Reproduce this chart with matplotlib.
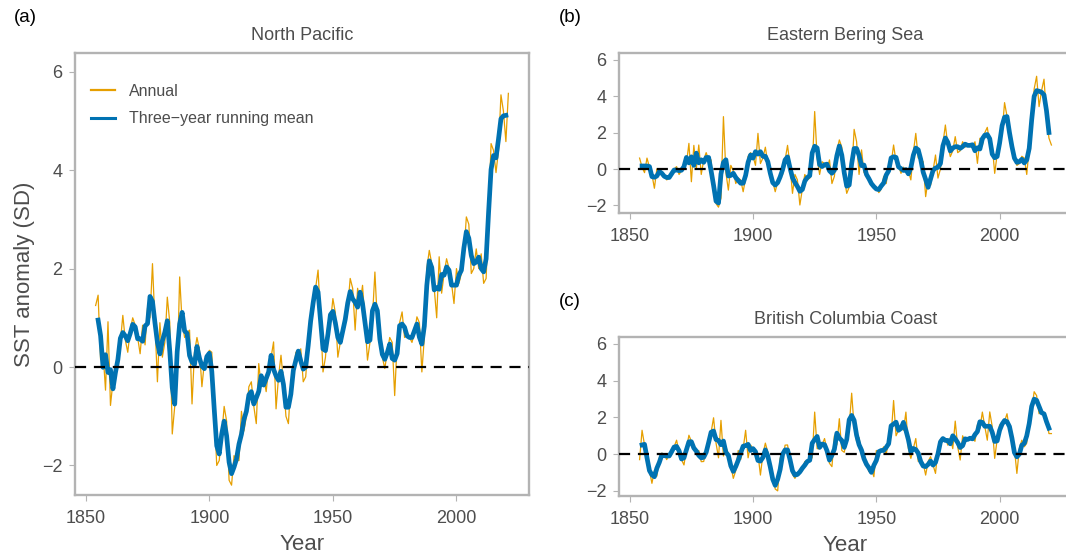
import matplotlib
matplotlib.use("Agg")
import matplotlib.pyplot as plt
import pandas as pd

plt.rcParams['font.family'] = ['Liberation Sans', 'DejaVu Sans']

# annual SST anomalies (SD), one value per year from 1854 to 2021
years = list(range(1854, 2022))

north_pacific = [
    1.25, 1.46, 0.15, 0.3, -0.47, 0.92, -0.78, -0.3, -0.25, 0.2,      # 1854-1863
    0.5, 1.05, 0.55, 0.3, 0.75, 1.0, 0.85, 0.6, 0.27, 0.85,           # 1864-1873
    0.45, 1.2, 1.0, 2.1, 0.9, -0.3, 0.9, 0.2, 0.5, 1.42,              # 1874-1883
    0.9, -1.36, -0.8, -0.1, 1.83, 0.9, 0.6, 0.7, 0.75, -0.75,         # 1884-1893
    0.3, 0.6, 0.35, -0.4, 0.1, 0.2, 0.34, 0.3, -0.9, -2.0,            # 1894-1903
    -1.9, -1.4, -0.8, -1.1, -2.3, -2.4, -1.8, -1.9, -1.9, -0.9,       # 1904-1913
    -1.3, -1.0, -0.4, -0.3, -0.8, -1.15, 0.07, -0.4, -0.2, -0.5,      # 1914-1923
    0.0, 0.2, 0.51, -0.85, -0.2, 0.24, -0.3, -1.0, -1.15, -0.3,       # 1924-1933
    -0.2, 0.3, 0.3, 0.37, -0.3, -0.2, 0.5, 1.0, 1.3, 1.6,             # 1934-1943
    1.97, 1.0, -0.1, 0.2, 0.9, 0.9, 1.39, 1.1, 0.2, 0.5,              # 1944-1953
    0.8, 0.9, 1.2, 1.8, 1.6, 0.75, 1.6, 1.3, 1.66, 0.9,               # 1954-1963
    0.14, 0.5, 1.0, 1.93, 0.9, 0.6, 0.2, -0.03, 0.3, 0.6,             # 1964-1973
    0.5, -0.58, 0.5, 0.9, 1.12, 0.6, 0.7, 0.6, 0.5, 0.7,              # 1974-1983
    1.02, 0.9, -0.1, 0.6, 2.0, 2.37, 2.1, 1.6, 1.0, 2.24,             # 1984-1993
    1.5, 1.9, 2.2, 2.0, 1.7, 1.29, 2.0, 1.7, 1.9, 2.3,                # 1994-2003
    3.05, 2.9, 1.9, 2.0, 2.4, 2.0, 2.3, 1.7, 1.8, 3.1,                # 2004-2013
    4.54, 4.4, 3.95, 4.4, 5.53, 5.2, 4.58, 5.56,                      # 2014-2021
]

bering_sea = [
    0.6, 0.1, -0.2, 0.6, 0.1, -0.3, -1.06, 0.0, -0.1, -0.3,
    -0.3, -0.6, -0.5, -0.3, 0.0, 0.13, -0.3, -0.1, 0.2, 0.3,
    1.41, -0.7, 1.3, 0.0, 1.32, -0.3, 0.5, 0.9, 0.5, 0.5,
    -1.3, -1.9, -2.1, -1.6, 2.88, -0.2, -1.16, 0.2, -0.1, -0.8,
    -0.5, -0.6, -1.25, -0.5, 0.7, 0.9, 0.7, 0.2, 1.96, 0.3,
    0.6, 1.2, 0.3, -0.3, -0.7, -1.25, -0.7, -0.3, -0.3, 0.5,
    1.3, 0.2, -1.34, -0.3, -0.6, -1.98, -1.1, -0.3, -0.6, -0.5,
    0.0, 3.16, 0.6, -0.3, 0.4, 0.3, 0.0, 0.5, -0.8, -0.4,
    1.0, 1.6, 1.2, -0.5, -1.34, -1.0, -0.3, 2.18, 1.5, -0.3,
    1.05, -0.2, -0.2, -0.5, -0.9, -1.0, -1.0, -1.3, -1.1, -0.4,
    -0.8, 0.2, 0.3, 1.32, 0.4, 0.2, -0.24, 0.1, -0.1, -0.1,
    -0.6, 0.9, 1.96, 0.6, 0.6, 0.4, -1.52, -0.6, -0.9, -0.1,
    0.77, -0.5, 0.0, 1.4, 2.42, 1.3, 0.68, 1.0, 1.78, 0.9,
    1.0, 1.5, 1.2, 1.4, 1.3, 1.2, 1.5, 0.31, 1.69, 1.3,
    2.0, 2.29, 1.4, 1.3, -0.24, 0.8, 1.5, 2.0, 3.65, 2.9,
    2.1, 1.0, 0.6, 0.2, 0.3, 0.7, 0.6, -0.3, 1.2, 2.5,
    4.4, 5.1, 3.43, 4.3, 4.94, 3.0, 1.7, 1.32,
]

bc_coast = [
    -0.3, 1.3, 0.5, -0.2, -0.9, -1.59, -0.9, -1.2, -0.2, 0.05,
    0.0, -0.3, 0.0, 0.0, 0.4, 0.76, 0.1, -0.3, -0.59, 0.3,
    1.03, 0.7, 0.3, 0.0, 0.2, -0.41, -0.4, 0.3, 0.4, 1.2,
    1.98, 0.6, -0.2, 1.84, -0.1, 0.4, 0.0, -0.6, -1.32, -0.9,
    0.2, -0.3, 0.3, 1.3, -0.2, 0.5, 0.3, 0.1, 0.0, -1.14,
    0.0, 0.6, 0.1, -1.0, -1.2, -1.9, -2.0, -0.2, -0.3, 0.49,
    0.5, -0.3, -1.1, -1.32, -1.0, -1.0, -0.9, -0.4, -0.5, -0.3,
    -0.2, 2.29, 0.3, 0.3, 0.5, 0.85, 0.2, -0.5, -0.68, 1.0,
    0.5, 1.93, 0.2, 0.1, 0.8, 1.5, 3.32, 1.5, 0.7, 0.9,
    -0.05, -0.2, -0.5, -0.95, -0.8, -1.23, 0.2, 0.0, 0.2, 0.4,
    0.0, 0.7, 1.0, 2.92, 1.0, 1.3, 1.6, 1.3, 2.29, 0.3,
    -0.23, 0.3, 0.85, -0.4, -0.3, -0.5, -1.14, -0.4, -0.14, -0.6,
    -1.05, 0.3, 0.8, 0.9, 0.85, 0.49, 0.9, 0.3, 1.8, 0.4,
    -0.32, 1.0, 0.7, 0.8, 0.9, 0.9, 0.7, 1.6, 1.4, 2.29,
    1.5, 0.76, 2.3, 1.5, -0.23, 0.8, 1.6, 1.5, 1.8, 2.2,
    1.3, 1.0, 0.3, -1.05, 0.3, 0.76, 0.4, 0.6, 2.0, 2.4,
    3.4, 3.19, 2.2, 2.38, 2.2, 2.0, 1.12, 1.12,
]

panel_titles = ["North Pacific", "Eastern Bering Sea", "British Columbia Coast"]
panel_letters = ["(a)", "(b)", "(c)"]
year_ticks = [1850, 1900, 1950, 2000]
sst_ticks = [-2, 0, 2, 4, 6]

annual_colour = "#E69F00"
mean_colour = "#0072B2"
frame_grey = "#B3B3B3"
text_grey = "#4D4D4D"


def running_mean(values):
    # centred three-year mean, like the blue curve
    return pd.Series(values).rolling(3, center=True).mean()


def draw_panel(ax, values, title, ylims):
    ax.plot(years, values, color=annual_colour, lw=0.9, label="Annual", zorder=2)
    ax.plot(years, running_mean(values), color=mean_colour, lw=3.4,
            label="Three\u2212year running mean", zorder=3)
    ax.axhline(0, color="black", lw=1.6, ls=(0, (5, 3.5)), zorder=4)
    ax.set_xlim(1845.65, 2029.35)
    ax.set_ylim(*ylims)
    ax.set_xticks(year_ticks)
    ax.set_yticks(sst_ticks)
    ax.set_yticklabels([str(t).replace("-", "\u2212") for t in sst_ticks])
    for side in ax.spines.values():
        side.set_color(frame_grey)
        side.set_linewidth(1.7)
    ax.tick_params(colors=frame_grey, labelcolor=text_grey, labelsize=13,
                   length=4, width=0.8)
    ax.tick_params(axis="x", pad=6.5)
    ax.tick_params(axis="y", pad=5)
    ax.set_title(title, color=text_grey, fontsize=13, pad=9.5)


fig = plt.figure(figsize=(10.66, 5.57), dpi=100)
W, H = 1066.0, 557.0

# panel boxes in pixels: left, top, right, bottom
ax_a = fig.add_axes([75 / W, 1 - 495 / H, 454 / W, 442 / H])
ax_b = fig.add_axes([619 / W, 1 - 213 / H, 453 / W, 160 / H])
ax_c = fig.add_axes([619 / W, 1 - 496 / H, 453 / W, 159 / H])

draw_panel(ax_a, north_pacific, panel_titles[0], (-2.6, 6.38))
draw_panel(ax_b, bering_sea, panel_titles[1], (-2.42, 6.38))
draw_panel(ax_c, bc_coast, panel_titles[2], (-2.28, 6.38))

ax_a.set_ylabel("SST anomaly (SD)", color=text_grey, fontsize=16, labelpad=5)
ax_a.set_xlabel("Year", color=text_grey, fontsize=16, labelpad=5)
ax_c.set_xlabel("Year", color=text_grey, fontsize=16, labelpad=5)

leg = ax_a.legend(loc="upper left", frameon=False, fontsize=11.5, labelcolor=text_grey,
                  handlelength=1.5, handletextpad=0.9, labelspacing=0.8,
                  bbox_to_anchor=(0.0, 0.967), borderaxespad=0.6)
leg.get_lines()[0].set_linewidth(1.6)
leg.get_lines()[1].set_linewidth(2.2)

fig.text(25 / W, 1 - 18 / H, panel_letters[0], fontsize=13.5, ha="center", va="center")
fig.text(570 / W, 1 - 18 / H, panel_letters[1], fontsize=13.5, ha="center", va="center")
fig.text(570 / W, 1 - 302 / H, panel_letters[2], fontsize=13.5, ha="center", va="center")

fig.savefig("out.png", dpi=100)
